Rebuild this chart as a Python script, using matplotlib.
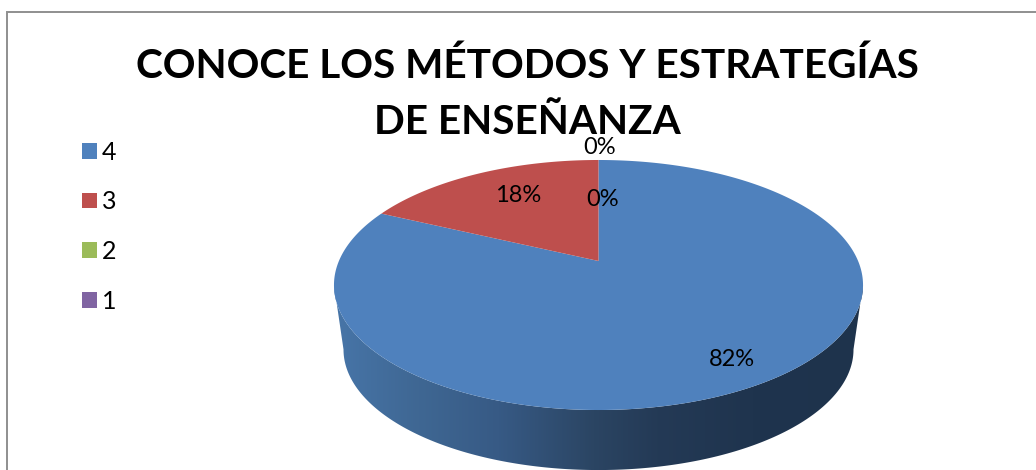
import numpy as np
import matplotlib
matplotlib.use("Agg")
from matplotlib import pyplot as plt
from matplotlib.colors import LinearSegmentedColormap
from matplotlib.patches import Patch, Polygon

title = "CONOCE LOS MÉTODOS Y ESTRATEGÍAS\nDE ENSEÑANZA"
categories = ["4", "3", "2", "1"]
values = [82, 18, 0, 0]
colors = ["#4F81BD", "#BE4F4D", "#9BBB59", "#8064A2"]
# label centres in pixels, same order as values
label_pos = [(732, 360), (518, 196), (600, 147), (603, 199)]

side_colors = ["#4775A8", "#3F6793", "#375A85", "#2B4563", "#243A56", "#1F344E", "#1E334C"]
side_stops = [0.0, 0.16, 0.31, 0.49, 0.61, 0.79, 1.0]

plt.rcParams["font.family"] = ["Lato", "DejaVu Sans"]

fig = plt.figure(figsize=(10.36, 4.7), dpi=100, facecolor="white")
ax = fig.add_axes([0, 0, 1, 1])
ax.set_xlim(0, 1036)
ax.set_ylim(470, 0)
ax.axis("off")


# the pie is tilted, so circle points go through a perspective mapping
def project(u, v, cy=261.0, scale=1.0):
    w = 1 + 0.192 * v
    return 598.5 + scale * 259.6 * u / w, cy - scale * 120.4 * v / w


def disc(start, end, cy=261.0, scale=1.0, n=300):
    t = np.radians(np.linspace(start, end, n))
    return project(np.sin(t), np.cos(t), cy, scale)


# side wall: lower half of the top disc, then lower half of the bottom disc
tx, ty = disc(101, 259)
bx, by = disc(259, 101, cy=326.4, scale=0.964)
wall = Polygon(np.column_stack([np.r_[tx, bx], np.r_[ty, by]]), closed=True, fc="none", ec="none",
               transform=ax.transData)
ax.add_patch(wall)
cmap = LinearSegmentedColormap.from_list("side", list(zip(side_stops, side_colors)))
grad = ax.imshow(np.linspace(0, 1, 256)[None, :], cmap=cmap, extent=(334, 864, 470, 200),
                 aspect="auto", zorder=1, interpolation="bilinear")
grad.set_clip_path(wall)
ax.set_xlim(0, 1036)
ax.set_ylim(470, 0)

# top of the pie, clockwise from 12 o'clock
start = 0.0
for val, col in zip(values, colors):
    end = start + val / sum(values) * 360
    if val > 0:
        xs, ys = disc(start, end)
        cx, cy = project(0.0, 0.0)
        ax.fill(np.r_[cx, xs], np.r_[cy, ys], color=col, lw=0, zorder=2)
    start = end

for val, pos in zip(values, label_pos):
    ax.text(pos[0], pos[1], f"{val}%", fontsize=17, color="black", ha="center", va="center", zorder=5)

ax.text(527, 94.5, title, fontsize=29.2, fontweight="bold", color="black", ha="center", va="center",
        linespacing=1.62, zorder=4)

# chart border, open at the right and bottom where the picture is cropped
ax.plot([7, 7, 1036], [470, 11.5, 11.5], color="#8F8F8F", lw=1.4, zorder=6, solid_joinstyle="miter")

handles = [Patch(fc=c, ec="none", label=k) for k, c in zip(categories, colors)]
ax.legend(handles=handles, loc="upper left", bbox_to_anchor=(74 / 1036, 1 - 133 / 470), frameon=False,
          fontsize=18, handlelength=0.6, handleheight=0.6, handletextpad=0.2, labelspacing=1.07,
          borderpad=0.3, borderaxespad=0)

fig.savefig("out.png", dpi=100, facecolor="white")
